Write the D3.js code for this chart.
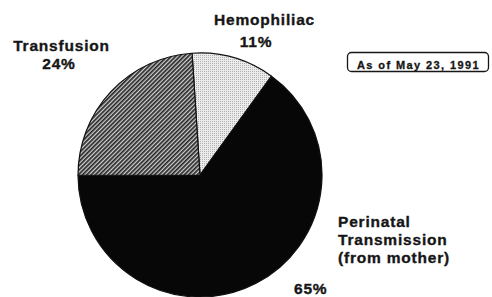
<!DOCTYPE html>
<html><head><meta charset="utf-8">
<script src="https://cdn.jsdelivr.net/npm/d3@7"></script>
<style>
html,body{margin:0;padding:0;background:#fff;}
svg{display:block;}
text{font-family:"Liberation Sans",Arial,Helvetica,sans-serif;font-weight:bold;fill:#161616;stroke:#161616;stroke-width:0.35px;}
</style></head>
<body>
<svg id="chart" width="492" height="297"></svg>
<script>
// ---- data ----
const categories = ["Hemophiliac", "Perinatal Transmission (from mother)", "Transfusion"];
const values = [11, 65, 24];
const percentLabels = ["11%", "65%", "24%"];
const labelLines = [["Hemophiliac"], ["Perinatal", "Transmission", "(from mother)"], ["Transfusion"]];
const noteText = "As of May 23, 1991";

// ---- layout ----
const W = 492, H = 297;
const cx = 200, cy = 175, R = 122;
const svg = d3.select("#chart");

const defs = svg.append("defs");
const hatch = defs.append("pattern").attr("id", "hatch")
  .attr("patternUnits", "userSpaceOnUse").attr("width", 3).attr("height", 3)
  .attr("patternTransform", "rotate(45)");
hatch.append("rect").attr("width", 3).attr("height", 3).attr("fill", "#d0d0d0");
hatch.append("rect").attr("width", 1.7).attr("height", 3).attr("fill", "#262626");

const dots = defs.append("pattern").attr("id", "dots")
  .attr("patternUnits", "userSpaceOnUse").attr("width", 2).attr("height", 2);
dots.append("rect").attr("width", 2).attr("height", 2).attr("fill", "#ececec");
dots.append("rect").attr("width", 1).attr("height", 1).attr("fill", "#b0b0b0");

const fills = d3.scaleOrdinal().domain(categories)
  .range(["url(#dots)", "#070707", "url(#hatch)"]);

const pie = d3.pie().sort(null).value(d => d).startAngle(-0.065).endAngle(2 * Math.PI - 0.065);
const arc = d3.arc().innerRadius(0).outerRadius(R);

const g = svg.append("g").attr("transform", `translate(${cx},${cy})`);
g.selectAll("path.slice").data(pie(values)).enter().append("path")
  .attr("class", "slice")
  .attr("d", arc)
  .attr("fill", (d, i) => fills(categories[i]))
  .attr("stroke", "#111").attr("stroke-width", 1.2).attr("stroke-linejoin", "round");

// ---- labels ----
const labelPos = [
  {name: {x: 264.5, y: 25, anchor: "middle"}, pct: {x: 256, y: 47, anchor: "middle"}},
  {name: {x: 338, y: 226.5, anchor: "start"}, pct: {x: 294, y: 294, anchor: "start"}},
  {name: {x: 61.5, y: 50.5, anchor: "middle"}, pct: {x: 59, y: 69, anchor: "middle"}}
];
const lineGap = 18.3;
labelLines.forEach((lines, i) => {
  const p = labelPos[i];
  lines.forEach((ln, j) => {
    svg.append("text").attr("x", p.name.x).attr("y", p.name.y + j * lineGap)
      .attr("text-anchor", p.name.anchor)
      .style("font-size", "15.5px").style("letter-spacing", "0.8px")
      .text(ln);
  });
  svg.append("text").attr("x", p.pct.x).attr("y", p.pct.y)
    .attr("text-anchor", p.pct.anchor)
    .style("font-size", "15.5px").style("letter-spacing", "0.8px")
    .text(percentLabels[i]);
});

// ---- note box ----
svg.append("rect").attr("x", 347.5).attr("y", 52.5).attr("width", 141).attr("height", 19)
  .attr("rx", 4).attr("fill", "none").attr("stroke", "#161616").attr("stroke-width", 1.3);
svg.append("text").attr("x", 418.5).attr("y", 68.5).attr("text-anchor", "middle")
  .style("font-size", "11px").style("letter-spacing", "1.4px").style("stroke-width", "0.3px")
  .text(noteText);
</script>
</body></html>
